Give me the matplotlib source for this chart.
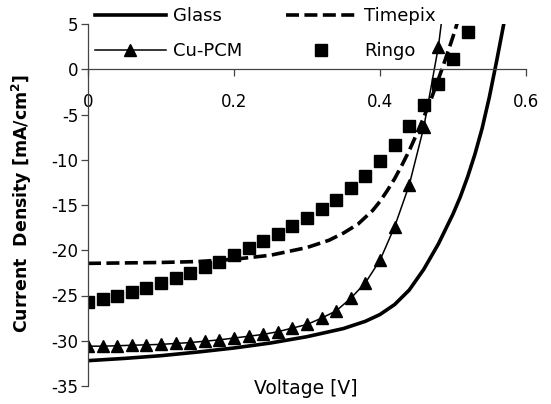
import numpy as np
import matplotlib
matplotlib.use('Agg')
import matplotlib.pyplot as plt

plt.rcParams['axes.unicode_minus'] = False

# J-V curves
glass_v = [0.00, 0.05, 0.10, 0.15, 0.20, 0.25, 0.30, 0.35, 0.38, 0.40, 0.42, 0.44,
           0.46, 0.48, 0.50, 0.51, 0.52, 0.53, 0.54, 0.55, 0.56, 0.57, 0.575]
glass_j = [-32.2, -31.95, -31.65, -31.25, -30.8, -30.25, -29.55, -28.65, -27.85, -27.1,
           -26.0, -24.4, -22.1, -19.3, -16.0, -14.1, -11.9, -9.4, -6.5, -3.0, 1.0, 5.2, 7.5]

timepix_v = [0.00, 0.05, 0.10, 0.15, 0.20, 0.25, 0.30, 0.33, 0.35, 0.37, 0.39, 0.40,
             0.41, 0.42, 0.43, 0.44, 0.45, 0.46, 0.47, 0.48, 0.49, 0.50, 0.51]
timepix_j = [-21.45, -21.4, -21.35, -21.25, -21.0, -20.55, -19.7, -18.9, -18.1, -17.1,
             -15.6, -14.6, -13.4, -12.1, -10.6, -9.0, -7.2, -5.3, -3.3, -1.1, 1.2, 3.6, 6.2]

cupcm_v = [0.00, 0.02, 0.04, 0.06, 0.08, 0.10, 0.12, 0.14, 0.16, 0.18, 0.20, 0.22, 0.24,
           0.26, 0.28, 0.30, 0.32, 0.34, 0.36, 0.38, 0.40, 0.42, 0.44, 0.46, 0.48]
cupcm_j = [-30.6, -30.6, -30.55, -30.5, -30.45, -30.4, -30.3, -30.2, -30.05, -29.9, -29.7,
           -29.5, -29.3, -29.0, -28.6, -28.2, -27.5, -26.7, -25.3, -23.6, -21.1, -17.4,
           -12.8, -6.4, 2.5]
cupcm_tail_v = [0.48, 0.487]
cupcm_tail_j = [2.5, 7.0]

ringo_v = [0.00, 0.02, 0.04, 0.06, 0.08, 0.10, 0.12, 0.14, 0.16, 0.18, 0.20, 0.22, 0.24,
           0.26, 0.28, 0.30, 0.32, 0.34, 0.36, 0.38, 0.40, 0.42, 0.44, 0.46, 0.48, 0.50, 0.52]
ringo_j = [-25.7, -25.35, -25.05, -24.65, -24.2, -23.6, -23.1, -22.55, -21.85, -21.3, -20.5,
           -19.7, -19.0, -18.2, -17.3, -16.4, -15.4, -14.4, -13.1, -11.8, -10.1, -8.4,
           -6.3, -3.9, -1.6, 1.1, 4.1]

xticks = [0, 0.2, 0.4, 0.6]
yticks = [5, 0, -5, -10, -15, -20, -25, -30, -35]

W, H = 551, 404
fig = plt.figure(figsize=(W / 100, H / 100), dpi=100)
ax = fig.add_axes([88 / W, 18 / H, 438 / W, 362 / H])

l1, = ax.plot(glass_v, glass_j, color='black', lw=2.6, label='Glass')
l2, = ax.plot(timepix_v, timepix_j, color='black', lw=2.6,
              linestyle=(0, (3.6, 1.5)), label='Timepix')
ax.plot(cupcm_tail_v, cupcm_tail_j, color='black', lw=1.1)
l3, = ax.plot(cupcm_v, cupcm_j, color='black', lw=1.1, marker='^', ms=8, label='Cu-PCM')
l4, = ax.plot(ringo_v, ringo_j, color='black', lw=0, marker='s', ms=9.3, label='Ringo')

ax.set_xlim(0, 0.6)
ax.set_ylim(-35, 5)
ax.set_xticks(xticks)
ax.set_xticklabels(['0', '0.2', '0.4', '0.6'])
ax.set_yticks(yticks)

ax.spines['top'].set_visible(False)
ax.spines['right'].set_visible(False)
ax.spines['bottom'].set_position(('data', 0))
for s in ('left', 'bottom'):
    ax.spines[s].set_color('#444444')
    ax.spines[s].set_linewidth(0.9)

ax.tick_params(axis='x', direction='out', length=5, width=0.9, color='#444444',
               pad=12, labelsize=12)
ax.tick_params(axis='y', direction='out', length=5, width=0.9, color='#444444',
               pad=2, labelsize=12)

fig.text(22 / W, 1 - 203 / H, 'Current  Density [mA/cm$^\\mathregular{2}$]',
         rotation=90, ha='center', va='center', fontsize=12.5, fontweight='bold')
fig.text(306 / W, 1 - 389 / H, 'Voltage [V]', ha='center', va='center', fontsize=13.5)

fig.legend([l1, l3, l2, l4], ['Glass', 'Cu-PCM', 'Timepix', 'Ringo'], ncol=2,
           loc='upper left', bbox_to_anchor=(91.5 / W, 1 - 3.5 / H), frameon=False,
           fontsize=13, handlelength=3.9, handletextpad=0.4, columnspacing=2.45,
           labelspacing=0.93, borderaxespad=0.0, borderpad=0.2)

fig.savefig('out.png', dpi=100)
